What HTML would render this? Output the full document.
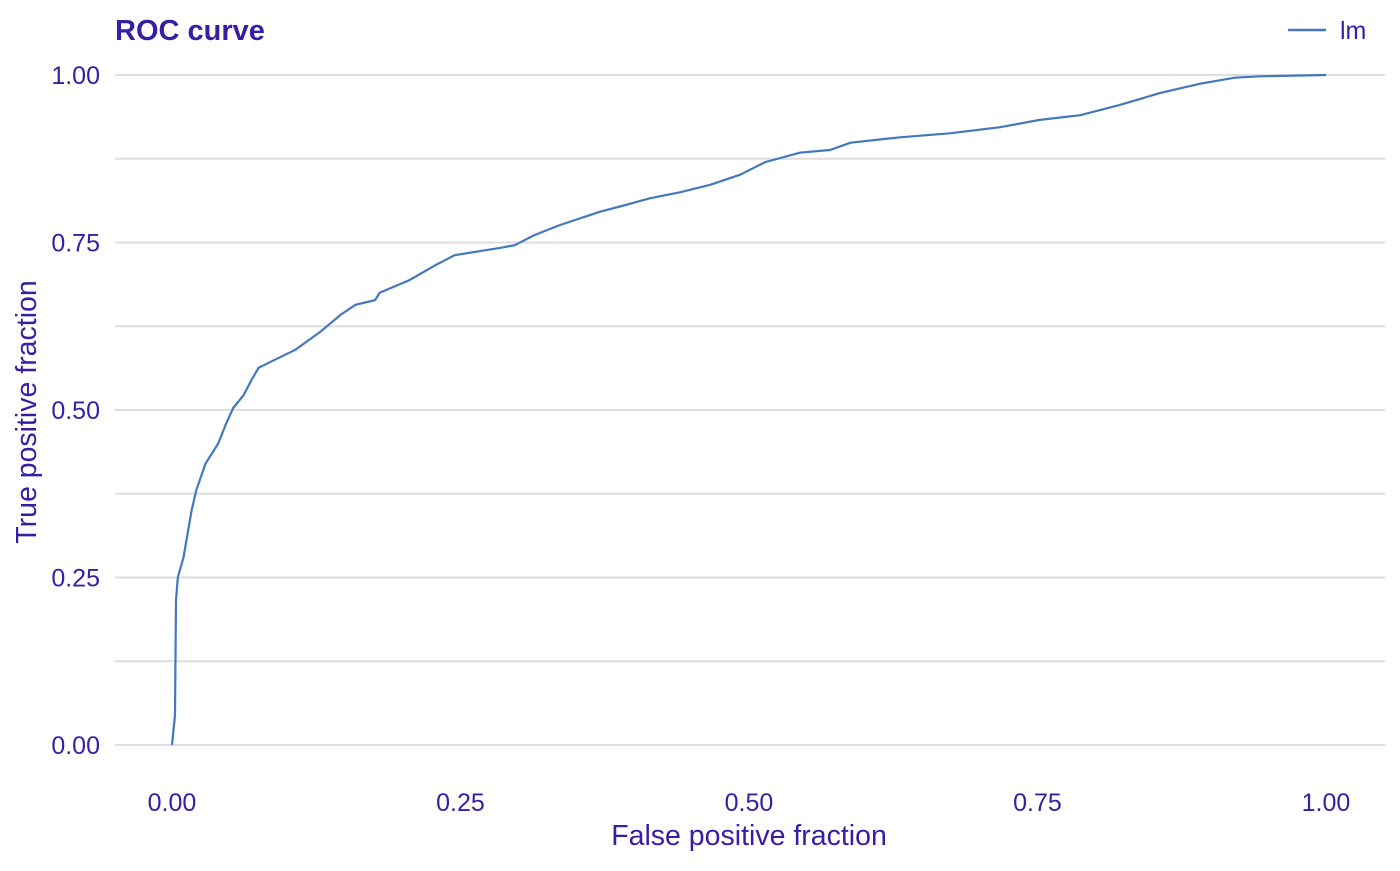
<!DOCTYPE html>
<html><head><meta charset="utf-8"><style>
body{margin:0;background:#fff;font-family:"Liberation Sans",Arial,sans-serif}
svg text{font-family:"Liberation Sans",Arial,sans-serif;fill:#371ea3}
</style></head><body>
<svg id="chart" width="1400" height="866" xmlns="http://www.w3.org/2000/svg">
<text x="115" y="40" font-size="29" font-weight="bold">ROC curve</text>
<g>
<line x1="1288" y1="30" x2="1326" y2="30" stroke="#4378bf" stroke-width="2.5"/>
<text x="1340" y="39" font-size="25">lm</text>
</g>
<g id="grid"></g><g id="yt"></g><g id="xt"></g>
<path id="curve" fill="none" stroke="#4378bf" stroke-width="2.2"/>
<text x="749" y="845" font-size="28.5" text-anchor="middle">False positive fraction</text>
<text transform="translate(36,412) rotate(-90)" font-size="28.5" text-anchor="middle">True positive fraction</text>
</svg>
<script>
const fpr=[0,.0026,.0035,.005,.01,.012,.017,.021,.029,.04,.047,.053,.062,.069,.075,.089,.107,.128,.146,.159,.176,.18,.206,.228,.245,.284,.297,.314,.336,.371,.393,.414,.44,.466,.492,.514,.544,.57,.588,.631,.674,.717,.752,.787,.821,.856,.891,.921,.943,1];
const tpr=[0,.045,.216,.25,.28,.3,.35,.38,.42,.45,.48,.503,.522,.545,.563,.575,.59,.616,.642,.657,.664,.675,.694,.716,.731,.742,.746,.761,.776,.796,.806,.816,.825,.836,.851,.87,.884,.888,.899,.907,.913,.922,.933,.94,.955,.973,.987,.996,.998,1];
const xTicks=["0.00","0.25","0.50","0.75","1.00"];
const yTicks=["0.00","0.25","0.50","0.75","1.00"];
const X=v=>172+v*1154, Y=v=>745-v*670;
const ns="http://www.w3.org/2000/svg";
const grid=document.getElementById('grid');
for(let i=0;i<=8;i++){const v=i/8;const l=document.createElementNS(ns,'line');


l.setAttribute('x1',115);l.setAttribute('x2',1385);l.setAttribute('y1',Y(v));l.setAttribute('y2',Y(v));
l.setAttribute('stroke','#dedede');l.setAttribute('stroke-width','2');grid.appendChild(l);}
yTicks.forEach(t=>{const e=document.createElementNS(ns,'text');


e.setAttribute('x',100);e.setAttribute('y',Y(+t)+9);e.setAttribute('text-anchor','end');e.setAttribute('font-size','25');e.textContent=t;document.getElementById('yt').appendChild(e);});
xTicks.forEach(t=>{const e=document.createElementNS(ns,'text');


e.setAttribute('x',X(+t));e.setAttribute('y',811);e.setAttribute('text-anchor','middle');e.setAttribute('font-size','25');e.textContent=t;document.getElementById('xt').appendChild(e);});
document.getElementById('curve').setAttribute('d',fpr.map((f,i)=>(i?'L':'M')+X(f).toFixed(1)+','+Y(tpr[i]).toFixed(1)).join(''));
</script>
</body></html>
